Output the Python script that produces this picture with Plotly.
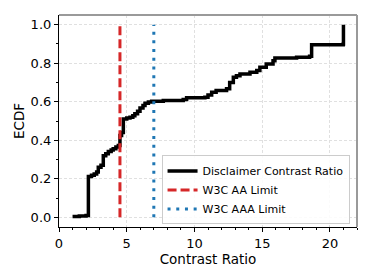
import plotly.graph_objects as go

# ECDF step points (contrast ratio, cumulative fraction)
contrast_ratio = [1.0, 1.5, 2.0, 2.17, 2.4, 2.6, 2.78, 2.9, 3.1, 3.27, 3.45, 3.64, 3.85, 4.0, 4.2, 4.38,
                  4.5, 4.62, 4.75, 5.0, 5.24, 5.45, 5.6, 5.8, 5.98, 6.2, 6.35, 6.6, 6.84, 7.7, 9.17, 9.42,
                  10.77, 11.0, 11.27, 11.6, 12.37, 12.6, 12.87, 13.1, 13.36, 14.1, 14.6, 14.83, 15.3, 15.8,
                  15.94, 17.54, 18.5, 18.65, 20.98, 21.0]
ecdf = [0.005, 0.007, 0.01, 0.212, 0.218, 0.225, 0.235, 0.26, 0.27, 0.32, 0.33, 0.342, 0.35, 0.356, 0.365, 0.373,
        0.425, 0.44, 0.511, 0.515, 0.52, 0.527, 0.537, 0.55, 0.568, 0.58, 0.592, 0.598, 0.603, 0.606, 0.611, 0.62,
        0.623, 0.635, 0.649, 0.658, 0.667, 0.70, 0.727, 0.735, 0.744, 0.753, 0.762, 0.779, 0.796, 0.813,
        0.827, 0.831, 0.836, 0.896, 0.90, 1.0]

aa_limit = 4.5
aaa_limit = 7.0
limit_y = [0.0, 1.0]

series_names = ["Disclaimer Contrast Ratio", "W3C AA Limit", "W3C AAA Limit"]
x_ticks = [0, 5, 10, 15, 20]
y_ticks = [0.0, 0.2, 0.4, 0.6, 0.8, 1.0]

FONT = "DejaVu Sans"

fig = go.Figure()
fig.add_trace(go.Scatter(x=contrast_ratio, y=ecdf, mode="lines", line_shape="hv",
                         line=dict(color="black", width=3.5), name=series_names[0]))
fig.add_trace(go.Scatter(x=[aa_limit, aa_limit], y=limit_y, mode="lines",
                         line=dict(color="#d62728", width=3, dash="9px,4px"), name=series_names[1]))
fig.add_trace(go.Scatter(x=[aaa_limit, aaa_limit], y=limit_y, mode="lines",
                         line=dict(color="#1f77b4", width=3, dash="3px,5.7px"), name=series_names[2]))

axis_common = dict(
    showline=True, linecolor="black", linewidth=1.2, mirror=False,
    ticks="outside", ticklen=4, tickwidth=1, tickcolor="black",
    showgrid=True, gridcolor="#e0e0e0", gridwidth=1, griddash="3px,2px",
    zeroline=False, tickfont=dict(family=FONT, size=13, color="black"),
    automargin=False,
)

fig.update_layout(
    width=372, height=279,
    margin=dict(l=59, r=15, t=15, b=52),
    paper_bgcolor="white", plot_bgcolor="white",
    font=dict(family=FONT, size=13, color="black"),
    showlegend=True,
    legend=dict(x=0.975, y=0.012, xanchor="right", yanchor="bottom",
                bgcolor="rgba(255,255,255,0.85)", bordercolor="#cccccc", borderwidth=1,
                font=dict(family=FONT, size=11, color="black"),
                tracegroupgap=0, itemwidth=30),
    xaxis=dict(range=[0, 22], tickvals=x_ticks, ticktext=[str(v) for v in x_ticks],
               minor=dict(dtick=1, ticks="outside", ticklen=2, tickcolor="black", showgrid=False),
               title=dict(text="Contrast Ratio", font=dict(family=FONT, size=13.5), standoff=0),
               **axis_common),
    yaxis=dict(range=[-0.05, 1.05], tickvals=y_ticks, ticktext=[f"{v:.1f}" for v in y_ticks],
               minor=dict(dtick=0.1, tick0=0, ticks="outside", ticklen=2, tickcolor="black", showgrid=False),
               title=dict(text="ECDF", font=dict(family=FONT, size=13.5), standoff=2),
               **axis_common),
    shapes=[
        dict(type="line", xref="paper", yref="paper", x0=0, x1=1, y0=1, y1=1,
             line=dict(color="#9a9a9a", width=2)),
        dict(type="line", xref="paper", yref="paper", x0=1, x1=1, y0=0, y1=1,
             line=dict(color="#9a9a9a", width=2)),
    ],
)

fig.write_html("out.html", config={"displayModeBar": False},
               post_script="document.body.style.margin='0';")
